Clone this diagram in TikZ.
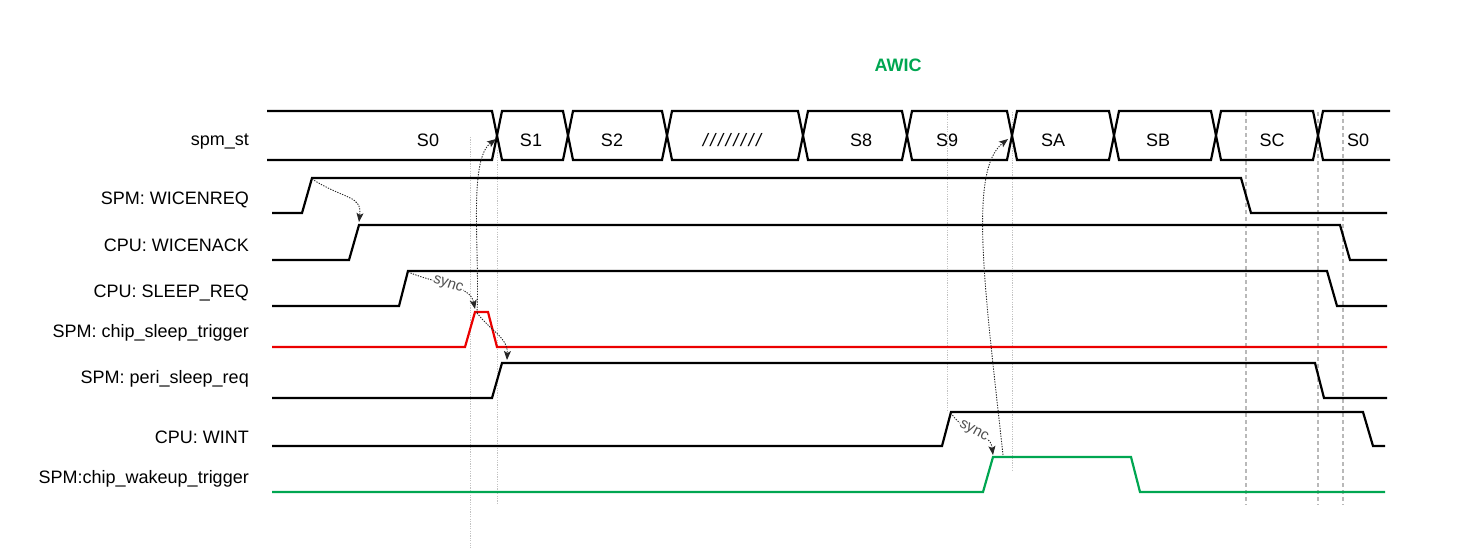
\documentclass[tikz,border=0pt]{standalone}
\usepackage{fontspec}
\setmainfont{Liberation Sans}
\usetikzlibrary{arrows.meta}
\definecolor{awgreen}{RGB}{0,166,81}
\definecolor{sigred}{RGB}{235,0,0}
\definecolor{guidegray}{RGB}{185,185,185}
\definecolor{thingray}{RGB}{195,195,195}
\definecolor{synctext}{RGB}{80,80,80}
\newcommand{\slashrow}{\foreach \k in {1,...,8}{/\kern2.6pt}\unskip}
\begin{document}
\begin{tikzpicture}[x=1pt,y=-1pt,
  wave/.style={line width=2.2pt, line join=miter, line cap=butt},
  guideline/.style={guidegray, line width=2pt, dash pattern=on 4pt off 3pt},
  thinline/.style={thingray, line width=0.8pt, dash pattern=on 1.2pt off 1.2pt},
  causal/.style={black!85, line width=0.9pt, dash pattern=on 1.3pt off 1.3pt,
    -{Stealth[length=9pt,width=7pt,inset=2pt]}},
  siglabel/.style={anchor=base east, inner sep=0pt, font=\fontsize{18}{21}\selectfont},
  statelabel/.style={anchor=base, inner sep=0pt, font=\fontsize{18}{21}\selectfont},
  synclabel/.style={synctext, fill=white, inner sep=0.5pt, font=\fontsize{15}{17}\selectfont}
]
\useasboundingbox (0,0) rectangle (1468,551);

% title
\node[awgreen, anchor=base, inner sep=0pt, font=\bfseries\fontsize{18}{21}\selectfont] (title) at (898,72) {AWIC};

% signal names
\node[siglabel] (lst)   at (249,145) {spm\_st};
\node[siglabel] (lreq)  at (249,204) {SPM: WICENREQ};
\node[siglabel] (lack)  at (249,251) {CPU: WICENACK};
\node[siglabel] (lslp)  at (249,297.5) {CPU: SLEEP\_REQ};
\node[siglabel] (lcst)  at (249,337.5) {SPM: chip\_sleep\_trigger};
\node[siglabel] (lperi) at (249,383) {SPM: peri\_sleep\_req};
\node[siglabel] (lwint) at (249,443) {CPU: WINT};
\node[siglabel] (lcwt)  at (249,483) {SPM:chip\_wakeup\_trigger};

% thin dotted guides
\draw[thinline] (470,137) -- (470,548);
\draw[thinline] (497,150) -- (497,505);
\draw[thinline] (947,112) -- (947,412);
\draw[thinline] (1012,112) -- (1012,470);

% gray dashed guides
\draw[guideline] (1246,112) -- (1246,505);
\draw[guideline] (1318,112) -- (1318,505);
\draw[guideline] (1343,112) -- (1343,505);

% bus spm_st
\def\bt{111}\def\bb{160}\def\bm{135.5}\def\bh{5}
\draw[wave] (267,\bt) -- (497-\bh,\bt) -- (497,\bm) -- (497-\bh,\bb) -- (267,\bb);
\foreach \a/\b in {497/568,568/667,667/803,803/907,907/1012,1012/1114,1114/1216,1216/1318}{
  \draw[wave] (\a,\bm) -- (\a+\bh,\bt) -- (\b-\bh,\bt) -- (\b,\bm) -- (\b-\bh,\bb) -- (\a+\bh,\bb) -- cycle;
}
\draw[wave] (1390,\bt) -- (1318+\bh,\bt) -- (1318,\bm) -- (1318+\bh,\bb) -- (1390,\bb);

% state labels
\node[statelabel] (s0)  at (428,146) {S0};
\node[statelabel] (s1)  at (531,146) {S1};
\node[statelabel] (s2)  at (612,146) {S2};
\node[statelabel] (sx)  at (732,146) {\itshape /\kern2.6pt/\kern2.6pt/\kern2.6pt/\kern2.6pt/\kern2.6pt/\kern2.6pt/\kern2.6pt/};
\node[statelabel] (s8)  at (861,146) {S8};
\node[statelabel] (s9)  at (947,146) {S9};
\node[statelabel] (sa)  at (1053,146) {SA};
\node[statelabel] (sb)  at (1158,146) {SB};
\node[statelabel] (sc)  at (1272,146) {SC};
\node[statelabel] (s0b) at (1358,146) {S0};

% waveforms
\draw[wave] (272,213) -- (302,213) -- (312,178) -- (1241,178) -- (1251,213) -- (1387,213);
\draw[wave] (272,260) -- (349,260) -- (359,225) -- (1340,225) -- (1350,260) -- (1387,260);
\draw[wave] (272,306) -- (399,306) -- (408,271) -- (1327,271) -- (1337,306) -- (1387,306);
\draw[wave, sigred] (272,347) -- (465,347) -- (475,312) -- (488,312) -- (497,347) -- (1387,347);
\draw[wave] (272,398) -- (492,398) -- (502,363) -- (1315,363) -- (1324,398) -- (1387,398);
\draw[wave] (272,446) -- (942,446) -- (951,412) -- (1363,412) -- (1373,446) -- (1385,446);
\draw[wave, awgreen] (272,492) -- (983,492) -- (993,457) -- (1131,457) -- (1140,492) -- (1385,492);

% causal arrow anchor points
\coordinate (reqH)  at (312,179);
\coordinate (ackH)  at (359,222);
\coordinate (slpH)  at (408,272);
\coordinate (cstH)  at (475,309);
\coordinate (cstS)  at (477,313);
\coordinate (x01)   at (496,139);
\coordinate (periH) at (507,360);
\coordinate (wintH) at (951,413);
\coordinate (cwtH)  at (993,455);
\coordinate (cwtS)  at (1003,455);
\coordinate (x9a)   at (1008,139);

% causal arrows
\draw[causal] (reqH) .. controls (345,200) and (362,195) .. (ackH);
\draw[causal] (slpH) .. controls (440,285) and (470,285) .. node[synclabel, pos=0.45, sloped] {sync} (cstH);
\draw[causal] (cstS) .. controls (480,250) and (468,160) .. (x01);
\draw[causal] (cstS) .. controls (492,332) and (508,338) .. (periH);
\draw[causal] (wintH) .. controls (965,435) and (990,430) .. node[synclabel, pos=0.45, sloped] {sync} (cwtH);
\draw[causal] (cwtS) .. controls (985,290) and (968,170) .. (x9a);
\end{tikzpicture}
\end{document}
